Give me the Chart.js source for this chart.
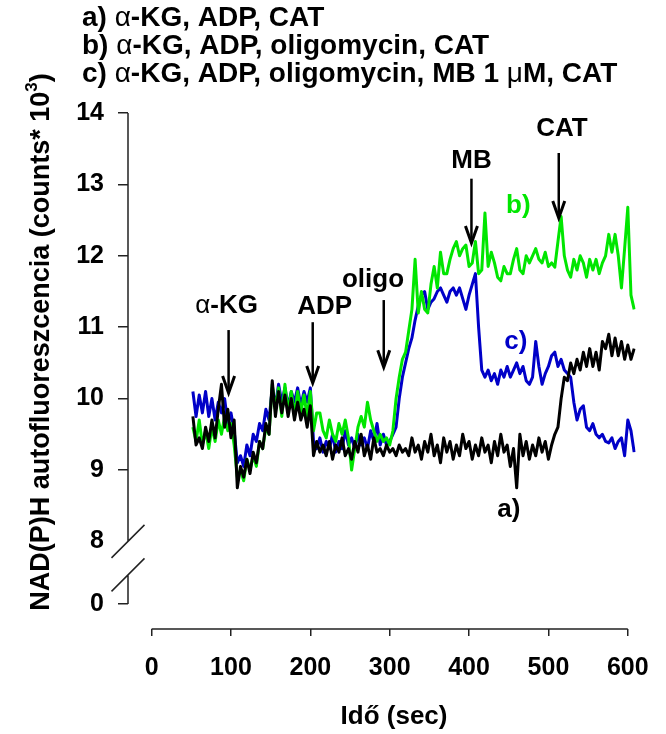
<!DOCTYPE html>
<html><head><meta charset="utf-8">
<script src="https://cdn.jsdelivr.net/npm/chart.js@4.4.1/dist/chart.umd.min.js"></script>
<style>html,body{margin:0;padding:0;background:#fff;}#wrap{width:666px;height:734px;}</style>
</head><body><div id="wrap"><canvas id="c" width="666" height="734"></canvas></div>
<script>
// ---- data ----
const times = [
52,56,60,64,68,72,76,80,84,88,
92,96,100,104,108,112,116,120,124,128,
132,136,140,144,148,152,156,160,164,168,
172,176,180,184,188,192,196,200,204,208,
212,216,220,224,228,232,236,240,244,248,
252,256,260,264,268,272,276,280,284,288,
292,296,300,304,308,312,316,320,324,328,
332,336,340,344,348,352,356,360,364,368,
372,376,380,384,388,392,396,400,404,408,
412,416,420,424,428,432,436,440,444,448,
452,456,460,464,468,472,476,480,484,488,
492,496,500,504,508,512,516,520,524,528,
532,536,540,544,548,552,556,560,564,568,
572,576,580,584,588,592,596,600,604,608];

// a) α-KG, ADP, CAT  (black)
const seriesA = [
9.75,9.35,9.45,9.3,9.6,9.4,9.7,9.45,9.85,10.2,
9.6,9.85,9.45,9.7,8.75,9.05,8.9,9.15,8.95,9.25,
9.1,9.4,9.3,9.65,9.5,10.25,9.75,10.1,9.8,10.05,
9.75,10.0,9.7,9.95,9.7,9.85,9.6,9.9,9.2,9.4,
9.25,9.35,9.2,9.4,9.15,9.35,9.25,9.45,9.2,9.3,
9.15,9.4,9.25,9.5,9.2,9.35,9.15,9.45,9.25,9.3,
9.2,9.35,9.25,9.3,9.2,9.35,9.25,9.3,9.2,9.45,
9.25,9.35,9.15,9.4,9.25,9.5,9.2,9.35,9.1,9.45,
9.25,9.4,9.15,9.35,9.2,9.5,9.3,9.4,9.15,9.35,
9.2,9.45,9.25,9.35,9.1,9.4,9.2,9.5,9.25,9.35,
9.05,9.3,8.75,9.5,9.2,9.4,9.15,9.35,9.2,9.45,
9.25,9.4,9.15,9.35,9.5,9.6,10.0,10.3,10.25,10.5,
10.35,10.55,10.4,10.65,10.45,10.7,10.45,10.65,10.4,10.8,
10.7,10.9,10.6,10.85,10.6,10.8,10.55,10.75,10.55,10.7];

// b) α-KG, ADP, oligomycin, CAT  (green)
const seriesB = [
9.6,9.4,9.7,9.35,9.55,9.3,9.6,9.4,9.7,9.5,
9.75,9.55,9.65,9.35,8.9,9.0,8.85,9.15,9.0,9.2,
9.05,9.4,9.3,9.6,9.5,10.2,9.85,10.15,9.75,10.2,
9.8,10.1,9.75,10.1,9.8,10.05,9.75,10.1,9.55,9.8,
9.8,9.55,9.45,9.7,9.5,9.4,9.65,9.5,9.7,9.45,
9.0,9.3,9.6,9.75,9.6,9.95,9.7,9.55,9.4,9.5,
9.4,9.45,9.35,9.55,10.0,10.3,10.55,10.65,10.95,11.25,
11.95,11.2,11.5,11.25,11.2,11.6,11.85,11.55,12.05,11.75,
11.75,11.95,12.1,12.2,12.0,12.1,12.15,11.85,11.9,12.2,
11.75,11.8,12.6,11.85,12.05,11.9,11.7,11.65,11.85,11.75,
11.75,11.95,12.1,11.8,11.75,12.0,11.9,12.0,12.1,11.95,
11.9,12.05,11.85,11.9,11.84,12.2,12.55,12.0,11.8,11.7,
11.95,11.8,12.0,11.9,11.7,11.95,11.8,11.95,11.75,11.9,
12.0,12.3,12.05,12.3,12.0,11.55,12.1,12.68,11.45,11.25];

// c) α-KG, ADP, oligomycin, MB 1 μM, CAT  (blue)
const seriesC = [
10.1,9.75,10.05,9.8,10.1,9.75,10.0,9.7,9.95,9.8,
10.0,9.65,9.8,9.55,9.1,9.2,9.05,9.35,9.2,9.5,
9.4,9.65,9.55,9.85,9.7,10.15,9.9,10.2,9.95,10.15,
9.9,10.1,9.95,10.15,9.9,10.1,9.95,10.15,9.4,9.3,
9.45,9.25,9.4,9.3,9.5,9.25,9.4,9.3,9.55,9.35,
9.45,9.3,9.5,9.35,9.45,9.3,9.55,9.4,9.65,9.35,
9.5,9.35,9.4,9.5,9.6,10.0,10.3,10.5,10.7,10.85,
11.1,11.3,11.45,11.5,11.25,11.35,11.4,11.5,11.55,11.45,
11.35,11.5,11.55,11.45,11.55,11.4,11.25,11.45,11.6,11.75,
11.0,10.4,10.3,10.4,10.25,10.35,10.2,10.4,10.3,10.45,
10.3,10.4,10.5,10.35,10.45,10.25,10.2,10.3,10.8,10.45,
10.2,10.35,10.45,10.6,10.65,10.45,10.55,10.4,10.35,10.3,
9.95,9.7,9.85,9.9,9.6,9.55,9.65,9.5,9.45,9.5,
9.4,9.38,9.45,9.3,9.4,9.45,9.2,9.7,9.55,9.25];

const xTicks = [0,100,200,300,400,500,600];
const yTicks = [8,9,10,11,12,13,14];
const yZeroTick = 7.123;   // where the "0" below the axis break sits
const yZeroLabel = '0';

const legendLines = [
  [['a) ','b'],['α','n'],['-KG, ADP, CAT','b']],
  [['b) ','b'],['α','n'],['-KG, ADP, oligomycin, CAT','b']],
  [['c) ','b'],['α','n'],['-KG, ADP, oligomycin, MB 1 ','b'],['μ','n'],['M, CAT','b']]
];
// additions: label, arrow time, arrow top value, arrow tip value, label time, label value
const additions = [
  {segs:[['α','n'],['-KG','b']], t:97,  top:10.96, tip:10.08, lt:94.5, lv:11.30},
  {segs:[['ADP','b']],            t:203, top:11.07, tip:10.22, lt:218,  lv:11.28},
  {segs:[['oligo','b']],          t:292.5, top:11.38, tip:10.44, lt:279, lv:11.66},
  {segs:[['MB','b']],             t:403, top:13.08, tip:12.18, lt:403,  lv:13.33},
  {segs:[['CAT','b']],            t:513, top:13.44, tip:12.53, lt:517,  lv:13.78}
];
const seriesLabels = [
  {text:'b)', t:462, v:12.70, color:'#00e600'},
  {text:'c)', t:459, v:10.79, color:'#0000c8'},
  {text:'a)', t:450, v:8.44,  color:'#000000'}
];
const xTitle = 'Idő (sec)';
const yTitleMain = 'NAD(P)H autofluoreszcencia (counts* 10';
const yTitleSup = '3';
const yTitleEnd = ')';

const FAM = '"Liberation Sans", Arial, sans-serif';
const font = (w, s) => `${w === 'b' ? 'bold ' : ''}${s}px ${FAM}`;

function drawSegs(ctx, segs, x, y, size, align) {
  let total = 0;
  segs.forEach(([t, w]) => { ctx.font = font(w, size); total += ctx.measureText(t).width; });
  let cx = align === 'center' ? x - total / 2 : x;
  ctx.textAlign = 'left';
  segs.forEach(([t, w]) => { ctx.font = font(w, size); ctx.fillText(t, cx, y); cx += ctx.measureText(t).width; });
}

const overlay = {
  id: 'overlay',
  afterDraw(chart) {
    const {ctx, chartArea} = chart;
    const x = chart.scales.x, y = chart.scales.y;
    ctx.save();
    ctx.strokeStyle = '#222';
    ctx.lineWidth = 1.5;
    // y axis with break
    const ax = chartArea.left;
    const yTop = y.getPixelForValue(14);
    const y8 = y.getPixelForValue(8);
    const y0 = y.getPixelForValue(yZeroTick);
    const yLow = y8 + (y0 - y8) * 0.535;
    ctx.beginPath();
    ctx.moveTo(ax, yTop); ctx.lineTo(ax, y8);
    ctx.moveTo(ax, yLow); ctx.lineTo(ax, y0);
    [y8, yLow].forEach(c => { ctx.moveTo(ax - 16.5, c + 16.5); ctx.lineTo(ax + 16.5, c - 16.5); });
    // x axis (detached)
    const xb = chartArea.bottom;
    ctx.moveTo(x.getPixelForValue(0), xb); ctx.lineTo(x.getPixelForValue(600), xb);
    ctx.stroke();

    ctx.fillStyle = '#000';
    ctx.textBaseline = 'middle';
    // top legend lines
    legendLines.forEach((segs, i) => drawSegs(ctx, segs, 82, 18 + i * 28, 28, 'left'));
    // arrows + labels
    ctx.strokeStyle = '#000';
    additions.forEach(a => {
      const px = x.getPixelForValue(a.t);
      const pt = y.getPixelForValue(a.top), pb = y.getPixelForValue(a.tip);
      ctx.lineWidth = 2.5;
      ctx.beginPath();
      ctx.moveTo(px, pt); ctx.lineTo(px, pb - 1);
      ctx.stroke();
      ctx.lineWidth = 3;
      ctx.beginPath();
      ctx.moveTo(px - 6, pb - 17); ctx.lineTo(px, pb); ctx.lineTo(px + 6, pb - 17);
      ctx.stroke();
      drawSegs(ctx, a.segs, x.getPixelForValue(a.lt), y.getPixelForValue(a.lv), 26, 'center');
    });
    seriesLabels.forEach(s => {
      ctx.fillStyle = s.color;
      ctx.font = font('b', 26);
      ctx.textAlign = 'center';
      ctx.fillText(s.text, x.getPixelForValue(s.t), y.getPixelForValue(s.v));
    });
    // axis titles
    ctx.fillStyle = '#000';
    ctx.font = font('b', 26);
    ctx.textAlign = 'center';
    ctx.fillText(xTitle, 394, 717);
    ctx.translate(42, 342);
    ctx.rotate(-Math.PI / 2);
    const fMain = font('b', 27), fSup = font('b', 17);
    ctx.font = fMain; const w1 = ctx.measureText(yTitleMain).width; const w3 = ctx.measureText(yTitleEnd).width;
    ctx.font = fSup; const w2 = ctx.measureText(yTitleSup).width;
    let sx = -(w1 + w2 + w3) / 2;
    ctx.textAlign = 'left';
    ctx.font = fMain; ctx.fillText(yTitleMain, sx, 0); sx += w1;
    ctx.font = fSup; ctx.fillText(yTitleSup, sx, -10); sx += w2;
    ctx.font = fMain; ctx.fillText(yTitleEnd, sx, 0);
    ctx.restore();
  }
};

const mk = (arr) => times.map((t, i) => ({x: t, y: arr[i]}));
const lineStyle = {borderWidth: 3, pointRadius: 0, fill: false, tension: 0, borderJoinStyle: 'round'};

new Chart(document.getElementById('c'), {
  type: 'line',
  data: {
    datasets: [
      Object.assign({label: 'a)', data: mk(seriesA), borderColor: '#000000'}, lineStyle),
      Object.assign({label: 'b)', data: mk(seriesB), borderColor: '#00e600'}, lineStyle),
      Object.assign({label: 'c)', data: mk(seriesC), borderColor: '#0000c8'}, lineStyle)
    ]
  },
  options: {
    responsive: false,
    animation: false,
    devicePixelRatio: 1,
    layout: {padding: {top: 113, right: 22, bottom: 0, left: 0}},
    plugins: {legend: {display: false}, tooltip: {enabled: false}, title: {display: false}},
    scales: {
      x: {
        type: 'linear', min: -29.75, max: 610,
        afterBuildTicks: s => { s.ticks = xTicks.map(v => ({value: v})); },
        afterFit: s => { s.height = 105; },
        border: {display: false},
        grid: {drawOnChartArea: false, drawTicks: true, tickLength: 7, color: '#222', lineWidth: 1.5},
        ticks: {font: {family: FAM, size: 25, weight: 'bold'}, color: '#000', padding: 17, maxRotation: 0, autoSkip: false}
      },
      y: {
        type: 'linear', min: 6.773, max: 14,
        afterBuildTicks: s => { s.ticks = [yZeroTick].concat(yTicks).map(v => ({value: v})); },
        afterFit: s => { s.width = 128; },
        border: {display: false},
        grid: {drawOnChartArea: false, drawTicks: true, tickLength: 10, lineWidth: 1.5,
               color: c => (c.tick && c.tick.value === 8) ? 'rgba(0,0,0,0)' : '#222'},
        ticks: {font: {family: FAM, size: 25, weight: 'bold'}, color: '#000', padding: 14, autoSkip: false,
                callback: v => v === yZeroTick ? yZeroLabel : String(v)}
      }
    }
  },
  plugins: [overlay]
});
</script></body></html>
